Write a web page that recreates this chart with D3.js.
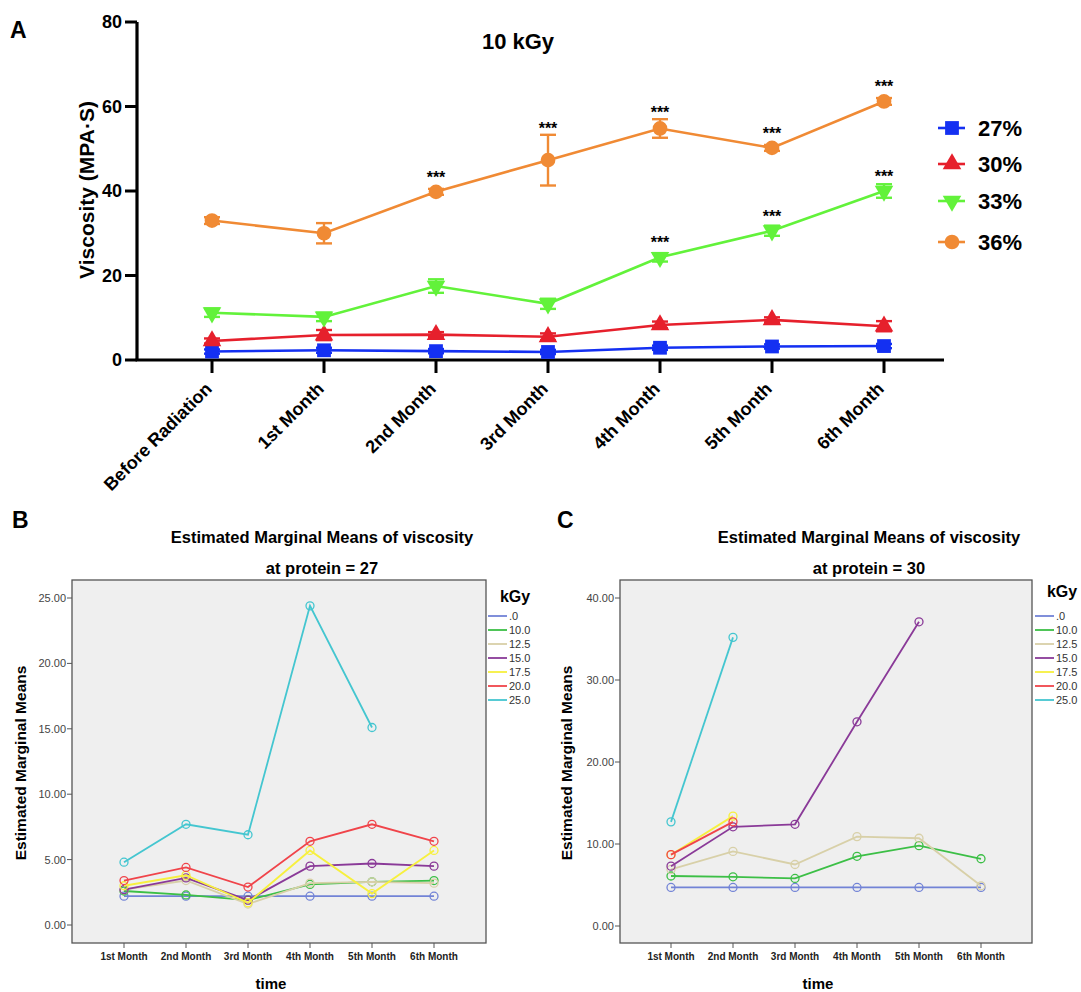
<!DOCTYPE html>
<html>
<head>
<meta charset="utf-8">
<script src="https://cdn.jsdelivr.net/npm/d3@7"></script>
<style>
body { margin: 0; background: #fff; }
svg { font-family: "Liberation Sans", Arial, sans-serif; }
</style>
</head>
<body>
<script>
// ---- panel A data ----
var timesA = ["Before Radiation", "1st Month", "2nd Month", "3rd Month", "4th Month", "5th Month", "6th Month"];
var groupsA = ["27%", "30%", "33%", "36%"];
var meanA27 = [2.0, 2.3, 2.1, 1.9, 2.9, 3.2, 3.3];
var errA27 = [0.5, 0.6, 0.5, 0.5, 0.5, 0.5, 0.5];
var meanA30 = [4.5, 5.9, 6.0, 5.5, 8.3, 9.5, 8.0];
var errA30 = [0.6, 1.2, 0.6, 0.8, 0.8, 0.6, 1.2];
var meanA33 = [11.2, 10.2, 17.5, 13.3, 24.3, 30.6, 40.0];
var errA33 = [1.0, 1.0, 1.6, 1.2, 1.0, 1.2, 1.6];
var meanA36 = [33.0, 30.0, 39.8, 47.3, 54.8, 50.2, 61.2];
var errA36 = [0.8, 2.4, 0.7, 6.0, 2.2, 0.7, 0.8];
var starsA33 = [0, 0, 0, 0, 1, 1, 1];
var starsA36 = [0, 0, 1, 1, 1, 1, 1];
var yTicksA = [0, 20, 40, 60, 80];

// ---- panels B, C data ----
var monthsBC = ["1st Month", "2nd Month", "3rd Month", "4th Month", "5th Month", "6th Month"];
var doses = [".0", "10.0", "12.5", "15.0", "17.5", "20.0", "25.0"];
var p27 = [
  [2.2, 2.2, 2.2, 2.2, 2.2, 2.2],
  [2.6, 2.3, 1.9, 3.1, 3.3, 3.4],
  [2.7, 3.4, 1.6, 3.2, 3.3, 3.2],
  [2.7, 3.6, 1.9, 4.5, 4.7, 4.5],
  [3.0, 3.8, 1.7, 5.7, 2.4, 5.7],
  [3.4, 4.4, 2.9, 6.4, 7.7, 6.4],
  [4.8, 7.7, 6.9, 24.4, 15.1, null]
];
var p30 = [
  [4.7, 4.7, 4.7, 4.7, 4.7, 4.7],
  [6.1, 6.0, 5.8, 8.5, 9.8, 8.2],
  [6.9, 9.1, 7.5, 10.9, 10.7, 4.9],
  [7.3, 12.1, 12.4, 24.9, 37.1, null],
  [8.7, 13.4, null, null, null, null],
  [8.7, 12.7, null, null, null, null],
  [12.7, 35.2, null, null, null, null]
];
var yTicksB = [0, 5, 10, 15, 20, 25];
var yTicksC = [0, 10, 20, 30, 40];

var colA = {"27%": "#1430f2", "30%": "#e6202c", "33%": "#62f23a", "36%": "#f08a34"};
var doseCol = ["#7283d6", "#3cbf46", "#d8d0a8", "#8a3a98", "#f7f03e", "#f0444a", "#44c6d0"];

var svg = d3.select("body").append("svg").attr("width", 1081).attr("height", 992);

// ================= Panel A =================
var xA = d3.scalePoint().domain(timesA).range([212, 884]);
var yA = d3.scaleLinear().domain([0, 80]).range([360, 22]);
var gA = svg.append("g");

gA.append("text").attr("x", 10).attr("y", 38).text("A")
  .attr("font-size", 23).attr("font-weight", "bold");
gA.append("text").attr("x", 518).attr("y", 49).attr("text-anchor", "middle")
  .text("10 kGy").attr("font-size", 22).attr("font-weight", "bold");
gA.append("text").attr("transform", "translate(94,190) rotate(-90)")
  .attr("text-anchor", "middle").text("Viscosity (MPA·S)")
  .attr("font-size", 21).attr("font-weight", "bold");

// axes
gA.append("line").attr("x1", 137).attr("x2", 137).attr("y1", 22).attr("y2", 361)
  .attr("stroke", "#000").attr("stroke-width", 3.2);
gA.append("line").attr("x1", 135.5).attr("x2", 944).attr("y1", yA(0)).attr("y2", yA(0))
  .attr("stroke", "#000").attr("stroke-width", 3.2);
yTicksA.forEach(function (t) {
  gA.append("line").attr("x1", 125).attr("x2", 137).attr("y1", yA(t)).attr("y2", yA(t))
    .attr("stroke", "#000").attr("stroke-width", 3);
  gA.append("text").attr("x", 122).attr("y", yA(t) + 6).attr("text-anchor", "end")
    .text(t).attr("font-size", 18).attr("font-weight", "bold");
});
timesA.forEach(function (t) {
  gA.append("line").attr("x1", xA(t)).attr("x2", xA(t)).attr("y1", 360).attr("y2", 373)
    .attr("stroke", "#000").attr("stroke-width", 3);
  gA.append("text").attr("transform", "translate(" + (xA(t) + 1) + ",390) rotate(-45)")
    .attr("text-anchor", "end").text(t).attr("font-size", 18).attr("font-weight", "bold");
});

var seriesA = [
  {name: "27%", mean: meanA27, err: errA27, shape: d3.symbolSquare, size: 190, rot: 0},
  {name: "30%", mean: meanA30, err: errA30, shape: d3.symbolTriangle, size: 150, rot: 0},
  {name: "33%", mean: meanA33, err: errA33, shape: d3.symbolTriangle, size: 150, rot: 180},
  {name: "36%", mean: meanA36, err: errA36, shape: d3.symbolCircle, size: 170, rot: 0}
];

var lineA = d3.line().x(function (d, i) { return xA(timesA[i]); }).y(function (d) { return yA(d); });

seriesA.forEach(function (s) {
  var c = colA[s.name];
  var g = gA.append("g");
  g.append("path").attr("d", lineA(s.mean)).attr("fill", "none").attr("stroke", c).attr("stroke-width", 2.6);
  s.mean.forEach(function (m, i) {
    var x = xA(timesA[i]);
    var e = s.err[i];
    g.append("line").attr("x1", x).attr("x2", x).attr("y1", yA(m - e)).attr("y2", yA(m + e))
      .attr("stroke", c).attr("stroke-width", 2.4);
    [m - e, m + e].forEach(function (v) {
      g.append("line").attr("x1", x - 8).attr("x2", x + 8).attr("y1", yA(v)).attr("y2", yA(v))
        .attr("stroke", c).attr("stroke-width", 2.4);
    });
    g.append("path").attr("d", d3.symbol().type(s.shape).size(s.size)())
      .attr("transform", "translate(" + x + "," + yA(m) + ") rotate(" + s.rot + ")")
      .attr("fill", c);
  });
});

// significance stars
[[meanA33, errA33, starsA33], [meanA36, errA36, starsA36]].forEach(function (a) {
  a[2].forEach(function (st, i) {
    if (!st) return;
    var top = Math.min(yA(a[0][i] + a[1][i]), yA(a[0][i]) - 8);
    gA.append("text").attr("x", xA(timesA[i])).attr("y", top - 1)
      .attr("text-anchor", "middle").text("***").attr("font-size", 16).attr("font-weight", "bold");
  });
});

// legend A
var legY = [128, 164, 201, 242];
seriesA.forEach(function (s, i) {
  var c = colA[s.name];
  gA.append("line").attr("x1", 938).attr("x2", 965).attr("y1", legY[i]).attr("y2", legY[i])
    .attr("stroke", c).attr("stroke-width", 2.6);
  gA.append("path").attr("d", d3.symbol().type(s.shape).size(s.size)())
    .attr("transform", "translate(952," + legY[i] + ") rotate(" + s.rot + ")").attr("fill", c);
  gA.append("text").attr("x", 978).attr("y", legY[i] + 8).text(s.name)
    .attr("font-size", 22).attr("font-weight", "bold");
});

// ================= Panels B, C =================
function spssPanel(o) {
  var g = svg.append("g");
  var x = d3.scalePoint().domain(monthsBC).range([o.x0, o.x1]);
  var y = d3.scaleLinear().domain([0, o.ymax]).range([o.y0, o.y1]);

  g.append("text").attr("x", o.lx).attr("y", 528).text(o.letter)
    .attr("font-size", 23).attr("font-weight", "bold");
  g.append("text").attr("x", o.tx).attr("y", 543).attr("text-anchor", "middle")
    .text("Estimated Marginal Means of viscosity").attr("font-size", 16.5).attr("font-weight", "bold");
  g.append("text").attr("x", o.tx).attr("y", 574).attr("text-anchor", "middle")
    .text(o.sub).attr("font-size", 16.5).attr("font-weight", "bold");

  g.append("rect").attr("x", o.bx0).attr("y", 580).attr("width", o.bx1 - o.bx0).attr("height", 363)
    .attr("fill", "#efefef").attr("stroke", "#555").attr("stroke-width", 1.3);

  o.ticks.forEach(function (t) {
    g.append("line").attr("x1", o.bx0 - 5).attr("x2", o.bx0).attr("y1", y(t)).attr("y2", y(t))
      .attr("stroke", "#555");
    g.append("text").attr("x", o.bx0 - 6).attr("y", y(t) + 4).attr("text-anchor", "end")
      .text(t.toFixed(2)).attr("font-size", 11).attr("fill", "#444");
  });
  monthsBC.forEach(function (m) {
    g.append("line").attr("x1", x(m)).attr("x2", x(m)).attr("y1", 943).attr("y2", 948).attr("stroke", "#555");
    g.append("text").attr("x", x(m)).attr("y", 960).attr("text-anchor", "middle")
      .text(m).attr("font-size", 10).attr("font-weight", "bold").attr("fill", "#222");
  });
  g.append("text").attr("x", (o.x0 + o.x1) / 2 - 8).attr("y", 989).attr("text-anchor", "middle")
    .text("time").attr("font-size", 15).attr("font-weight", "bold");
  g.append("text").attr("transform", "translate(" + o.ylx + ",763) rotate(-90)")
    .attr("text-anchor", "middle").text("Estimated Marginal Means")
    .attr("font-size", 15.5).attr("font-weight", "bold");

  var ln = d3.line().defined(function (d) { return d != null; })
    .x(function (d, i) { return x(monthsBC[i]); }).y(function (d) { return y(d); });
  o.data.forEach(function (row, k) {
    g.append("path").attr("d", ln(row)).attr("fill", "none")
      .attr("stroke", doseCol[k]).attr("stroke-width", 1.8);
    row.forEach(function (v, i) {
      if (v == null) return;
      g.append("circle").attr("cx", x(monthsBC[i])).attr("cy", y(v)).attr("r", 4)
        .attr("fill", "none").attr("stroke", doseCol[k]).attr("stroke-width", 1.3);
    });
  });

  // legend
  g.append("text").attr("x", o.legx + 27).attr("y", o.legy).attr("text-anchor", "middle")
    .text("kGy").attr("font-size", 16).attr("font-weight", "bold");
  doses.forEach(function (d, k) {
    var yy = 616 + k * 14;
    g.append("line").attr("x1", o.legx).attr("x2", o.legx + 19).attr("y1", yy).attr("y2", yy)
      .attr("stroke", doseCol[k]).attr("stroke-width", 1.8);
    g.append("text").attr("x", o.legx + 21).attr("y", yy + 4).text(d)
      .attr("font-size", 11).attr("fill", "#333");
  });
}

spssPanel({letter: "B", lx: 12, tx: 322, sub: "at protein = 27", data: p27, ymax: 25, ticks: yTicksB,
  x0: 124, x1: 434, y0: 925, y1: 598, bx0: 72, bx1: 486, ylx: 26, legx: 488, legy: 602});
spssPanel({letter: "C", lx: 557, tx: 869, sub: "at protein = 30", data: p30, ymax: 40, ticks: yTicksC,
  x0: 671, x1: 981, y0: 926, y1: 598, bx0: 620, bx1: 1032, ylx: 572, legx: 1035, legy: 597});
</script>
</body>
</html>
